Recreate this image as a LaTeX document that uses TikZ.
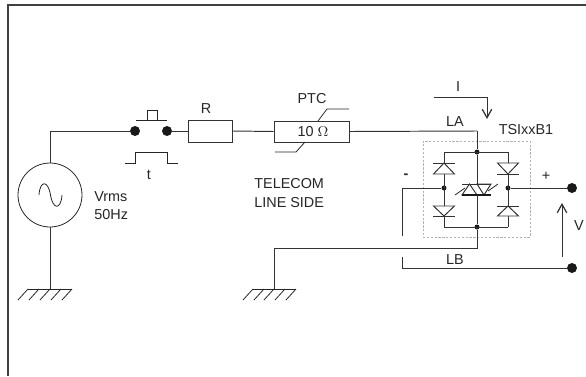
\documentclass[tikz,border=0pt]{standalone}
\usepackage{fontspec}
\setmainfont{Liberation Sans}
\usetikzlibrary{arrows.meta}
\tikzset{
	wire/.style={line width=0.55pt, color=black!80},
	frameline/.style={line width=0.95pt, color=black!75},
	boxpart/.style={rectangle, draw=black!80, line width=0.55pt, fill=white, inner sep=0pt},
	bigdot/.style={circle, fill=black!90, inner sep=0pt, minimum size=0.2cm},
	smalldot/.style={circle, fill=black!90, inner sep=0pt, minimum size=0.1cm},
	lbl/.style={inner sep=0pt, font=\fontsize{8.2}{10.3}\selectfont, color=black!85},
	hatch/.style={line width=0.45pt, color=black!85},
}
\begin{document}
\begin{tikzpicture}[x=0.02cm, y=-0.02cm]
		\useasboundingbox (0,0) rectangle (586,376);
		% frame
		\coordinate (framea) at (8,376);
		\coordinate (frameb) at (8,5);
		\coordinate (framec) at (586,5);
		\draw [frameline] (framea) -- (frameb) -- (framec);

		% source and line side
		\node[circle, draw=black!85, line width=0.45pt, minimum size=1.28cm, inner sep=0pt](source) at (50,195){};
		\node[bigdot](contactl) at (135,131){};
		\node[bigdot](contactr) at (167,131){};
		\node[boxpart, minimum width=0.88cm, minimum height=0.44cm](resistor) at (210,131){};
		\node[boxpart, minimum width=1.5cm, minimum height=0.42cm](ptc) at (311.5,131.5){};
		\coordinate (cornerl) at (50,131);
		\coordinate (cornerla) at (477,131);
		\draw [wire] (source.north) -- (cornerl) -- (contactl);
		\draw [wire] (contactr) -- (resistor.west);
		\draw [wire] (resistor.east) -- (ptc.west);
		\draw [wire] (ptc.east) -- (cornerla);

		% sine
		\coordinate (sinea) at (39,195);
		\coordinate (sineb) at (50.5,195);
		\coordinate (sinec) at (62,195);
		\draw [hatch] (sinea) .. controls (40,180) and (48,180) .. (sineb) .. controls (53,210) and (61,210) .. (sinec);

		% push button and pulse
		\coordinate (bara) at (136,120);
		\coordinate (barb) at (167,120);
		\draw [hatch] (bara) -- (barb);
		\draw [hatch] (147,120) -- (147,110) -- (157,110) -- (157,120);
		\draw [hatch] (125,163) -- (135,163) -- (135,152) -- (167,152) -- (167,163) -- (178,163);

		% ptc slashes
		\draw [hatch] (318,121) -- (327,109) -- (349,109);
		\draw [hatch] (305,142) -- (296,152) -- (275,152);

		% grounds
		\coordinate (gndl) at (50,289);
		\coordinate (gndr) at (274,289);
		\draw [wire] (source.south) -- (gndl);
		\draw [hatch] (28,289) -- (72,289);
		\draw [hatch] (253,289) -- (296,289);
		\foreach \xpos in {28,39,50,61,72}{
			\draw [hatch] (\xpos,289) -- ({\xpos-10},300);
		}
		\foreach \xpos in {253,264,274,285,296}{
			\draw [hatch] (\xpos,289) -- ({\xpos-10},300);
		}

		% bridge
		\node[rectangle, draw=black!30, dash pattern=on 1.3pt off 0.9pt, line width=0.45pt, minimum width=2.14cm, minimum height=1.92cm, inner sep=0pt](device) at (476.5,189){};
		\node[smalldot](top) at (477,152){};
		\node[smalldot](bottom) at (477,227){};
		\node[smalldot](left) at (444,188){};
		\node[smalldot](right) at (508,188){};
		\coordinate (topl) at (444,152);
		\coordinate (topr) at (508,152);
		\coordinate (botl) at (444,227);
		\coordinate (botr) at (508,227);
		\coordinate (cornerlb) at (477,248);
		\coordinate (cornerg) at (274,248);
		\draw [wire] (cornerla) -- (top);
		\draw [wire] (topl) -- (topr);
		\draw [wire] (botl) -- (botr);
		\draw [wire] (topl) -- (botl);
		\draw [wire] (topr) -- (botr);
		\draw [wire] (top) -- (477,184);
		\draw [wire] (477,195) -- (bottom);
		\draw [wire] (bottom) -- (cornerlb) -- (cornerg) -- (gndr);

		% diodes
		\draw [wire, fill=white] (444,163) -- (433.5,174) -- (454.5,174) -- cycle;
		\draw [wire] (433,163) -- (455,163);
		\draw [wire, fill=white] (444,216) -- (433.5,206) -- (454.5,206) -- cycle;
		\draw [wire] (433,216) -- (455,216);
		\draw [wire, fill=white] (508,174) -- (497.5,163) -- (518.5,163) -- cycle;
		\draw [wire] (497,174) -- (519,174);
		\draw [wire, fill=white] (508,206) -- (497.5,216) -- (518.5,216) -- cycle;
		\draw [wire] (497,206) -- (519,206);

		% protection device in the middle
		\draw [wire, fill=white] (469.5,184) -- (462,195) -- (477,195) -- cycle;
		\draw [wire, fill=white] (484,195) -- (477,184) -- (491,184) -- cycle;
		\draw [line width=0.9pt, color=black!90] (462,195) -- (491,195);
		\draw [wire] (462,184) -- (491,184);
		\draw [hatch] (455,195) -- (465,188);
		\draw [hatch] (488,191) -- (498,184);

		% terminals
		\node[bigdot](plus) at (572,188){};
		\node[bigdot](minus) at (572,268){};
		\coordinate (lefta) at (402,188);
		\coordinate (leftb) at (402,236);
		\coordinate (lowa) at (402,257);
		\coordinate (lowb) at (402,268);
		\draw [wire] (right) -- (plus);
		\draw [wire] (left) -- (lefta) -- (leftb);
		\draw [wire] (lowa) -- (lowb) -- (minus);

		% arrows
		\coordinate (vstart) at (562,257);
		\coordinate (vend) at (562,203);
		\draw [wire, -{Straight Barb[length=1.7mm, width=1.9mm, line width=0.7pt]}] (vstart) -- (vend);
		\coordinate (ia) at (434,97);
		\coordinate (ib) at (487,97);
		\coordinate (ic) at (487,119);
		\draw [wire, -{Straight Barb[length=1.7mm, width=1.9mm, line width=0.7pt]}] (ia) -- (ib) -- (ic);

		% labels
		\node[lbl, anchor=west, align=left](srclabel) at (94,206){Vrms\\50Hz};
		\node[lbl](tlabel) at (149,175){t};
		\node[lbl](rlabel) at (206,109){R};
		\node[lbl](ptclabel) at (312,99){PTC};
		\node[lbl](ohmlabel) at (313,132){10 $\Omega$};
		\node[lbl, anchor=west, align=left](linelabel) at (254,193){TELECOM\\LINE SIDE};
		\node[lbl](ilabel) at (458,87){I};
		\node[lbl](lalabel) at (455,122){LA};
		\node[lbl](lblabel) at (455,260){LB};
		\node[lbl](devlabel) at (526,130){TSIxxB1};
		\node[lbl](pluslabel) at (546,176){+};
		\node[lbl](minuslabel) at (406,176){\textbf{-}};
		\node[lbl](vlabel) at (579,226){V};
	\end{tikzpicture}
\end{document}
